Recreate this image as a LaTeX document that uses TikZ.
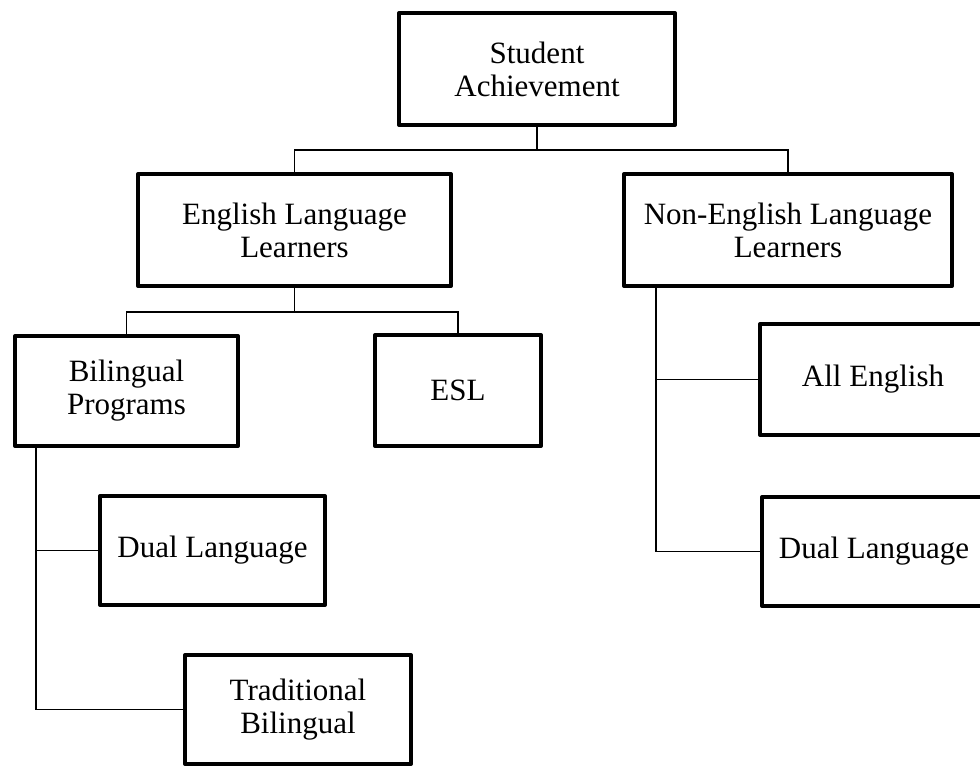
\documentclass[tikz,border=0pt]{standalone}
\usepackage{fontspec}
\setmainfont{Liberation Serif}
\begin{document}
\begin{tikzpicture}[x=1pt,y=-1pt,
  box/.style={draw=black,line width=4pt,line join=round,rectangle,align=center,inner sep=0pt,
    font=\fontsize{31}{33}\selectfont},
  conn/.style={draw=black,line width=1.5pt}]
\useasboundingbox (0,0) rectangle (980,767);
\fill[white] (0,0) rectangle (980,767);
% boxes
\node[box,minimum width=276pt,minimum height=112pt] (top) at (537,69) {Student\\Achievement};
\node[box,minimum width=313pt,minimum height=112pt] (ell) at (294.5,230) {English Language\\Learners};
\node[box,minimum width=328pt,minimum height=112pt] (neng) at (788,230) {Non-English Language\\Learners};
\node[box,minimum width=223pt,minimum height=110pt] (bil) at (126.5,391) {Bilingual\\Programs};
\node[box,minimum width=166pt,minimum height=111pt] (esl) at (458,390.5) {ESL};
\node[box,minimum width=226pt,minimum height=111pt] (alle) at (873,379.5) {All English};
\node[box,minimum width=224pt,minimum height=109pt] (dualr) at (874,551.5) {Dual Language};
\node[box,minimum width=225pt,minimum height=109pt] (duall) at (212.5,550.5) {Dual Language};
\node[box,minimum width=226pt,minimum height=109pt] (trad) at (298,709.5) {Traditional\\Bilingual};
% connectors
\coordinate (j1) at (537,150);
\coordinate (j2) at (294.5,312);
\coordinate (b0) at (36,446);
\coordinate (n0) at (656,286);
\draw[conn] (top.south) -- (j1);
\draw[conn] (ell.north) |- (j1) -| (neng.north);
\draw[conn] (ell.south) -- (j2);
\draw[conn] (bil.north) |- (j2) -| (esl.north);
\draw[conn] (b0) |- (duall.west);
\draw[conn] (b0) |- (trad.west);
\draw[conn] (n0) |- (alle.west);
\draw[conn] (n0) |- (dualr.west);
\end{tikzpicture}
\end{document}
